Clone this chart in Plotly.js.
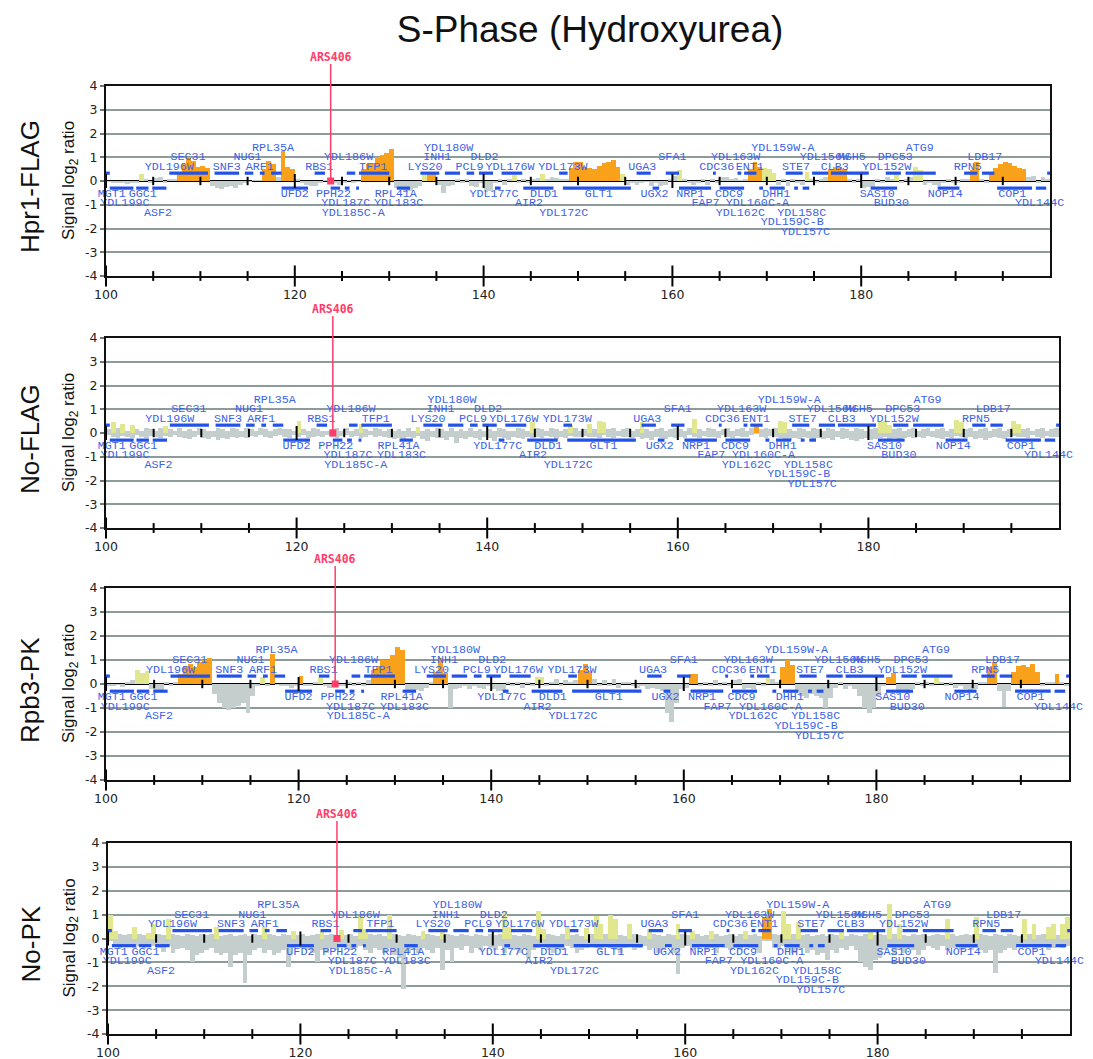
<!DOCTYPE html>
<html><head><meta charset="utf-8">
<script src="https://cdn.plot.ly/plotly-3.0.1.min.js"></script>
<style>html,body{margin:0;padding:0;background:#fff;}#chart{width:1093px;height:1059px;}</style>
</head><body><div id="chart"></div>
<script>
// ---------- DATA ----------
const binStart = 100, binStep = 0.5;   // kb, signal bins 100.0 .. 199.5

// Hpr1-FLAG signal (signed log2 ratio per 0.5 kb bin)
const hpr1 = [
 -0.05,-0.1,-0.08,-0.1,-0.12,-0.08,-0.1,0.3,0.1,-0.1,
 0.12,0.15,-0.1,0.1,0.1,0.4,0.7,1.0,0.85,0.6,
 0.65,0.55,-0.2,-0.3,-0.35,-0.25,-0.2,-0.3,-0.15,-0.1,
 -0.05,0.05,0.05,0.5,0.85,0.7,0.15,1.25,0.6,0.5,
 0.1,-0.1,-0.15,-0.2,-0.2,-0.1,0.05,-0.1,-0.1,-0.15,
 -0.1,0.05,-0.1,-0.05,0.5,0.7,0.75,1.0,1.1,1.2,
 1.35,-0.3,-0.35,-0.45,-0.4,-0.3,-0.2,0.25,0.35,0.3,
 -0.15,-0.5,-0.2,-0.15,0.1,-0.1,0.08,-0.2,-0.25,-0.1,
 -0.45,-0.4,-0.1,0.1,-0.15,0.1,0.25,-0.1,0.1,-0.1,
 0.1,0.12,0.3,0.1,0.15,0.12,0.08,0.1,0.55,0.8,
 0.8,0.6,0.55,0.5,0.65,0.75,0.8,0.9,0.6,0.3,
 -0.15,-0.1,-0.15,-0.1,-0.05,-0.2,-0.1,-0.2,-0.15,0.1,
 0.2,0.45,0.1,-0.1,-0.15,-0.1,0.1,-0.15,0.1,-0.1,
 0.15,0.15,0.1,0.12,0.05,0.1,0.5,0.8,0.6,0.55,
 0.5,0.35,-0.15,0.1,-0.2,0.1,-0.1,-0.15,0.4,0.1,
 -0.1,0.1,0.15,0.5,0.6,0.6,0.5,0.1,-0.1,0.1,
 -0.3,-0.25,-0.3,0.1,-0.1,0.15,0.1,0.3,-0.1,0.1,
 0.15,0.6,0.45,-0.15,-0.1,-0.15,-0.2,-0.1,0.1,-0.1,
 -0.1,0.1,0.1,0.45,0.8,0.1,-0.1,0.35,0.55,0.7,
 0.8,0.75,0.65,0.55,0.5,0.15,0.2,-0.1,0.15,0.1];
const hpr1EnrStart = [107.5,116.5,118.5,127.0,134.0,149.0,168.0,176.5,191.5,193.5];
const hpr1EnrEnd   = [111.0,118.0,120.0,130.5,135.0,154.5,169.5,178.5,192.5,197.5];

// No-FLAG signal: upper and lower envelope per bin
const noFlagHi = [
 0.15,0.45,0.2,0.4,0.1,0.35,0.15,0.1,0.2,0.15,
 0.1,0.2,0.3,0.15,0.1,0.2,0.1,0.15,0.1,0.2,
 0.15,0.1,0.1,0.2,0.15,0.1,0.2,0.15,0.1,0.2,
 0.15,0.1,0.2,0.15,0.1,0.15,0.2,0.15,0.15,0.1,
 0.5,0.15,0.1,0.2,0.15,0.1,0.1,0.15,0.2,0.1,
 0.2,0.1,0.15,0.4,0.15,0.1,0.2,0.15,0.1,0.15,
 0.1,0.15,0.1,0.2,0.1,0.25,0.1,0.15,0.1,0.2,
 0.15,0.1,0.2,0.1,0.15,0.1,0.2,0.1,0.15,0.1,
 0.15,0.1,0.2,0.15,0.1,0.1,0.2,0.15,0.1,0.45,
 0.2,0.15,0.1,0.2,0.15,0.1,0.15,0.35,0.2,0.1,
 0.15,0.4,0.15,0.5,0.45,0.15,0.2,0.1,0.15,0.2,
 0.1,0.15,0.45,0.15,0.1,0.15,0.2,0.1,0.15,0.2,
 0.15,0.1,0.2,0.6,0.15,0.1,0.2,0.15,0.1,0.15,
 0.2,0.1,0.15,0.2,0.1,0.2,0.4,0.15,0.2,0.15,
 0.2,0.5,0.45,0.15,0.1,0.2,0.15,0.1,0.2,0.15,
 0.1,0.2,0.15,0.1,0.2,0.15,0.1,0.2,0.15,0.1,
 0.15,0.2,0.45,0.5,0.35,0.15,0.2,0.1,0.15,0.2,
 0.1,0.15,0.2,0.1,0.15,0.2,0.1,0.15,0.55,0.45,
 0.15,0.2,0.1,0.15,0.2,0.1,0.15,0.2,0.1,0.15,
 0.5,0.4,0.15,0.2,0.1,0.15,0.2,0.1,0.15,0.2];
const noFlagLo = [
 -0.1,-0.15,-0.2,-0.12,-0.18,-0.2,-0.1,-0.15,-0.22,-0.12,
 -0.15,-0.2,-0.12,-0.18,-0.1,-0.15,-0.2,-0.25,-0.15,-0.1,
 -0.2,-0.25,-0.15,-0.3,-0.2,-0.25,-0.18,-0.22,-0.15,-0.2,
 -0.12,-0.18,-0.1,-0.15,-0.2,-0.12,-0.1,-0.15,-0.2,-0.1,
 -0.15,-0.1,-0.2,-0.15,-0.12,-0.18,-0.1,-0.15,-0.2,-0.12,
 -0.1,-0.15,-0.12,-0.2,-0.15,-0.1,-0.18,-0.12,-0.15,-0.2,
 -0.25,-0.2,-0.3,-0.15,-0.2,-0.12,-0.25,-0.35,-0.15,-0.2,
 -0.2,-0.3,-0.15,-0.4,-0.2,-0.25,-0.15,-0.2,-0.3,-0.15,
 -0.2,-0.35,-0.15,-0.2,-0.3,-0.15,-0.2,-0.25,-0.15,-0.2,
 -0.15,-0.2,-0.12,-0.18,-0.25,-0.15,-0.2,-0.12,-0.18,-0.15,
 -0.12,-0.18,-0.15,-0.2,-0.1,-0.15,-0.2,-0.12,-0.15,-0.18,
 -0.2,-0.15,-0.25,-0.2,-0.3,-0.15,-0.2,-0.25,-0.15,-0.2,
 -0.15,-0.2,-0.1,-0.15,-0.2,-0.12,-0.18,-0.15,-0.2,-0.1,
 -0.15,-0.2,-0.12,-0.18,-0.15,-0.1,-0.05,-0.15,-0.2,-0.12,
 -0.15,-0.2,-0.25,-0.3,-0.2,-0.25,-0.15,-0.2,-0.3,-0.2,
 -0.25,-0.2,-0.3,-0.15,-0.25,-0.2,-0.3,-0.35,-0.25,-0.2,
 -0.3,-0.25,-0.2,-0.15,-0.25,-0.2,-0.3,-0.2,-0.15,-0.2,
 -0.15,-0.2,-0.12,-0.18,-0.2,-0.25,-0.15,-0.2,-0.12,-0.15,
 -0.2,-0.15,-0.25,-0.2,-0.3,-0.2,-0.15,-0.2,-0.25,-0.15,
 -0.12,-0.18,-0.15,-0.2,-0.1,-0.15,-0.2,-0.12,-0.18,-0.15];
const noFlagEnrStart = [168.0];
const noFlagEnrEnd   = [168.5];

// Rpb3-PK signal (signed)
const rpb3 = [
 -0.1,-0.1,-0.05,-0.12,0.1,0.15,0.6,0.45,0.55,-0.2,
 -0.3,-0.25,0.1,-0.1,0.1,0.4,0.75,0.85,0.7,0.9,
 1.0,1.1,-0.4,-0.8,-1.0,-1.1,-1.0,-0.9,-0.8,-1.2,
 -0.5,-0.1,0.3,-0.1,1.25,-0.05,-0.1,-0.1,-0.15,-0.1,
 0.35,-0.1,-0.1,0.1,0.25,-0.1,-0.15,0.1,-0.1,-0.1,
 0.1,-0.1,0.1,-0.1,0.15,0.6,0.75,1.0,1.0,1.2,
 1.55,1.4,-0.3,-0.3,-0.25,-0.3,-0.15,0.1,0.5,1.1,
 0.45,-1.0,-0.2,-0.15,-0.1,-0.2,-0.1,-0.15,-0.2,-0.1,
 -0.2,-0.3,-0.3,0.1,-0.1,0.1,-0.15,0.1,-0.1,0.3,
 0.3,-0.1,0.1,0.2,-0.1,0.15,0.1,0.15,0.6,0.85,
 0.55,0.2,-0.1,0.15,-0.1,0.2,-0.15,0.1,0.1,-0.1,
 -0.15,-0.1,-0.2,-0.15,-0.2,-0.3,-1.2,-1.6,-0.8,-0.2,
 -0.15,0.4,0.4,-0.1,0.1,-0.1,0.15,-0.1,0.1,-0.1,
 0.15,0.2,-0.2,-0.15,-0.2,0.1,-0.1,0.3,0.2,0.1,
 0.7,1.0,0.8,-0.3,-0.5,-0.6,-0.4,-0.5,-0.6,-1.0,
 -0.6,-0.15,0.1,-0.2,-0.1,-0.2,-0.5,-1.0,-1.2,-1.0,
 -0.5,-0.1,0.3,0.45,-0.4,-0.35,-0.4,-0.2,0.1,-0.1,
 0.1,-0.1,0.35,0.1,-0.1,0.1,-0.15,-0.1,-0.2,-0.25,
 -0.2,0.1,0.1,0.7,0.9,-0.3,-0.95,-0.3,0.5,0.75,
 0.8,0.7,0.85,0.5,-0.1,0.1,0.1,0.4,0.1,-0.1];
const rpb3EnrStart = [107.5,117.0,120.0,127.5,134.0,149.0,160.5,170.0,181.0,191.5,194.0,198.5];
const rpb3EnrEnd   = [111.0,117.5,120.5,131.0,135.5,150.5,161.5,171.5,182.0,192.5,197.0,199.0];

// No-PK signal: upper and lower envelope per bin
const noPkHi = [
 1.0,0.3,0.2,0.15,0.2,0.5,0.2,0.15,0.25,0.6,
 0.2,0.15,0.8,0.2,0.15,0.1,0.2,0.15,0.1,0.2,
 0.15,0.2,0.5,0.1,0.15,0.2,0.1,0.15,0.2,0.1,
 0.2,0.15,0.5,0.2,0.15,0.1,0.2,0.15,0.3,0.15,
 0.2,0.1,0.15,0.2,0.4,0.15,0.2,0.1,0.35,0.15,
 0.2,0.1,0.95,0.4,0.2,0.15,0.2,0.1,1.0,0.2,
 0.15,0.1,0.2,0.15,0.1,0.3,0.2,0.15,0.1,0.3,
 0.2,0.15,0.1,0.2,0.15,0.1,0.2,0.15,0.1,0.2,
 0.15,0.2,1.15,0.5,0.15,0.1,0.2,0.15,0.1,1.15,
 0.4,0.2,0.15,0.1,0.2,0.5,0.15,0.2,0.1,0.45,
 0.2,0.95,0.6,0.2,1.0,0.8,0.15,0.1,0.6,0.2,
 0.15,0.1,0.4,0.2,0.15,0.1,0.2,0.15,0.6,0.2,
 0.15,0.3,0.2,0.1,0.15,0.3,0.2,0.1,0.15,0.2,
 0.1,0.2,0.3,0.15,0.2,0.1,0.9,1.25,0.2,0.15,
 1.15,0.6,0.2,0.7,0.15,0.2,0.1,0.15,0.2,0.1,
 0.2,0.15,0.3,0.1,0.2,0.15,0.1,0.2,0.3,0.15,
 0.2,0.15,1.45,0.2,0.6,0.15,0.1,0.2,0.15,0.2,
 0.1,0.15,0.2,0.15,0.8,0.2,0.1,0.15,0.2,0.15,
 0.9,0.2,0.15,0.1,0.2,0.15,0.1,0.2,0.15,0.1,
 0.8,0.2,0.6,0.15,0.2,0.5,0.6,0.15,0.6,0.9];
const noPkLo = [
 -0.1,-0.3,-0.4,-0.25,-0.35,-0.4,-0.3,-0.45,-0.35,-0.3,
 -0.4,-0.55,-0.3,-0.6,-0.45,-0.4,-0.5,-1.0,-0.7,-0.6,
 -0.5,-0.4,-0.6,-0.7,-0.6,-1.2,-0.7,-0.6,-1.85,-0.7,
 -0.5,-0.4,-0.6,-0.5,-0.7,-0.6,-0.5,-1.2,-0.4,-0.3,
 -0.4,-0.5,-0.6,-1.0,-0.5,-0.6,-0.4,-0.5,-0.3,-0.4,
 -0.5,-0.4,-0.3,-0.5,-0.6,-0.4,-0.5,-0.6,-0.4,-0.7,
 -0.8,-2.1,-0.6,-0.5,-0.6,-0.4,-0.5,-0.6,-0.4,-1.3,
 -0.5,-1.0,-0.4,-0.5,-0.3,-0.6,-0.4,-0.5,-0.3,-0.4,
 -0.5,-0.3,-0.6,-0.4,-0.5,-0.6,-0.4,-0.8,-0.5,-0.4,
 -0.3,-0.5,-0.6,-0.4,-0.5,-0.3,-0.4,-0.6,-0.5,-0.4,
 -0.3,-0.4,-0.5,-0.3,-0.4,-0.5,-0.6,-0.4,-0.3,-0.5,
 -0.4,-0.3,-0.5,-0.4,-0.6,-0.5,-0.3,-0.6,-1.5,-0.4,
 -0.3,-0.5,-0.4,-0.3,-0.5,-0.4,-0.6,-0.3,-0.4,-0.5,
 -0.4,-0.5,-0.3,-0.4,-0.5,-0.6,-0.1,-0.1,-0.4,-0.5,
 -0.3,-0.5,-0.6,-0.5,-0.4,-0.6,-0.5,-0.7,-0.6,-0.9,
 -0.5,-0.6,-0.4,-0.5,-0.3,-0.5,-1.0,-1.2,-1.3,-0.9,
 -0.8,-0.5,-0.4,-0.7,-0.5,-0.6,-0.4,-0.5,-0.7,-0.5,
 -0.3,-0.4,-0.5,-0.3,-0.5,-0.4,-0.3,-0.5,-0.4,-0.5,
 -0.4,-0.5,-0.6,-0.5,-1.45,-0.6,-0.5,-0.4,-0.5,-0.3,
 -0.4,-0.3,-0.5,-0.4,-0.3,-0.5,-0.4,-0.3,-0.4,-0.3];
const noPkEnrStart = [168.0];
const noPkEnrEnd   = [169.0];

// Gene annotation (kb). level: +1..+3 Watson labels above axis, -1..-5 Crick labels below
const geneNames = ['TRM8','YDL196W','SNF3','ARF1','RBS1','TFP1','LYS20','PCL9','YDL176W','YDL173W','UGA3','CDC36','ENT1','STE7','CLB3','YDL152W','RPN5','CCT4',
 'SEC31','NUG1','YDL186W','INH1','DLD2','SFA1','YDL163W','YDL156W','MSH5','DPC53','LDB17',
 'RPL35A','YDL180W','YDL159W-A','ATG9',
 'MGT1','GGC1','UFD2','PPH22','RPL41A','YDL177C','DLD1','GLT1','UGX2','NRP1','CDC9','DHH1','SAS10','NOP14','COP1',
 'YDL199C','YDL187C','YDL183C','AIR2','FAP7','YDL160C-A','BUD30','YDL144C',
 'ASF2','YDL185C-A','YDL172C','YDL162C','YDL158C',
 'YDL159C-B','YDL157C'];
const geneX = [99.7,106.7,112.8,116.3,122.6,128.3,133.8,138.5,142.8,148.4,156.8,164.7,168.2,173.1,177.2,182.7,191.3,200.5,
 108.7,115.0,125.7,135.1,140.1,160.0,166.7,176.1,179.0,183.6,193.1,
 117.7,136.3,171.7,186.2,
 100.6,103.9,120.0,124.1,130.7,141.1,146.4,152.2,158.1,161.9,166.0,171.0,181.7,188.9,196.0,
 102.0,125.4,131.0,144.8,163.5,169.0,183.2,198.9,
 105.5,126.2,148.5,167.2,173.7,
 172.7,174.1];
const geneLevel = [1,1,1,1,1,1,1,1,1,1,1,1,1,1,1,1,1,1,
 2,2,2,2,2,2,2,2,2,2,2,
 3,3,3,3,
 -1,-1,-1,-1,-1,-1,-1,-1,-1,-1,-1,-1,-1,-1,-1,
 -2,-2,-2,-2,-2,-2,-2,-2,
 -3,-3,-3,-3,-3,
 -4,-5];
const watsonStart = [99.5,106.7,111.5,114.7,116.3,117.5,122.1,125.5,126.8,133.3,135.9,138.2,139.5,141.9,148.0,156.2,159.3,164.3,166.9,167.6,172.0,174.8,176.8,182.6,184.7,190.9,192.8,199.7];
const watsonEnd   = [100.4,110.8,114.1,115.6,116.8,118.6,123.2,126.4,130.0,135.3,137.5,139.0,141.0,144.1,148.9,157.7,160.7,164.6,167.3,168.9,173.8,176.5,180.8,184.2,187.9,192.3,194.1,201.5];
const crickStart  = [100.4,103.2,104.9,118.6,123.8,125.3,126.5,130.8,141.2,144.2,148.4,157.9,160.7,165.0,169.2,170.3,172.9,173.8,181.0,188.1,194.4,198.5];
const crickEnd    = [102.9,104.5,106.4,121.4,124.8,125.8,126.8,132.2,141.8,147.4,155.6,158.6,164.1,167.6,169.6,171.9,173.3,174.5,183.8,190.4,198.1,199.6];

const arsName = 'ARS406', arsX = 123.8;
const xMajorTicks = [100,120,140,160,180];
const xMinorTicks = [105,110,115,125,130,135,145,150,155,165,170,175,185,190,195];
const yTicks = [-4,-3,-2,-1,0,1,2,3,4];

const panelNames = ['Hpr1-FLAG','No-FLAG','Rpb3-PK','No-PK'];

// ---------- STYLE / LAYOUT ----------
const W = 1093, H = 1059;
const ORANGE = '#f9a11b', GREY = '#c4cecc', YELLOW = '#e0e78e', BLUE = '#3d63e6', BAR_BLUE = '#2352e8', RED = '#ff3d6a';
// pixel geometry of each panel: [left, right, top, bottom]
const geom = [[106,1050,86,276],[106,1059,338,528],[106,1069,588,780],[108,1070,843,1034]];

const series = [
  {hi: hpr1.map(v=>Math.max(v,0)), lo: hpr1.map(v=>Math.min(v,0)), es: hpr1EnrStart, ee: hpr1EnrEnd},
  {hi: noFlagHi, lo: noFlagLo, es: noFlagEnrStart, ee: noFlagEnrEnd},
  {hi: rpb3.map(v=>Math.max(v,0)), lo: rpb3.map(v=>Math.min(v,0)), es: rpb3EnrStart, ee: rpb3EnrEnd},
  {hi: noPkHi, lo: noPkLo, es: noPkEnrStart, ee: noPkEnrEnd}
];

function lvlY(l){ return l > 0 ? 0.2 + 0.4*l : -0.55 - 0.4*(-l-1); }
function segs(s, e, y){ const X=[],Y=[]; s.forEach((v,i)=>{X.push(v,e[i],null);Y.push(y,y,null);}); return {X,Y}; }
const py = p => 1 - p / H;

const traces = [], layout = {
  width: W, height: H, autosize: false, margin: {l:0,r:0,t:0,b:0},
  paper_bgcolor: '#fff', plot_bgcolor: '#fff', showlegend: false, hovermode: false,
  barmode: 'relative', bargap: 0,
  title: {text: 'S-Phase (Hydroxyurea)', font: {family: 'Liberation Sans, Arial, sans-serif', size: 37, color: '#111'},
          x: 590/W, xanchor: 'center', y: py(29), yanchor: 'middle'},
  annotations: [], shapes: []
};

series.forEach((s, k) => {
  const n = k + 1, xa = 'x' + (k ? n : ''), ya = 'y' + (k ? n : '');
  const [L, R, T, B] = geom[k];
  const xs = s.hi.map((_, i) => binStart + i*binStep + binStep/2);
  const inEnr = x => s.es.some((a, j) => x >= a && x < s.ee[j]);
  const hiCol = s.hi.map((v, i) => inEnr(xs[i]) ? ORANGE : (v >= 0.25 ? YELLOW : GREY));
  traces.push({type:'bar', x: xs, y: s.hi, width: binStep, marker:{color: hiCol, line:{width:0}}, xaxis: xa, yaxis: ya, hoverinfo:'skip'});
  traces.push({type:'bar', x: xs, y: s.lo, width: binStep, marker:{color: GREY, line:{width:0}}, xaxis: xa, yaxis: ya, hoverinfo:'skip'});
  const w = segs(watsonStart, watsonEnd, 0.33), c = segs(crickStart, crickEnd, -0.3);
  traces.push({type:'scatter', mode:'lines', x: w.X.concat(c.X), y: w.Y.concat(c.Y), line:{color: BAR_BLUE, width: 3.2}, xaxis: xa, yaxis: ya, connectgaps:false});
  traces.push({type:'scatter', mode:'text', x: geneX, y: geneLevel.map(lvlY), text: geneNames, textposition:'middle center',
    textfont:{family:'Liberation Mono, Courier New, monospace', size: 11.7, color: BLUE}, cliponaxis:false, xaxis: xa, yaxis: ya});
  // tick marks across the zero line and the bottom axis
  traces.push({type:'scatter', mode:'markers', x: xMajorTicks, y: xMajorTicks.map(()=>0), marker:{symbol:'line-ns', size:10, line:{width:2,color:'#000'}}, cliponaxis:false, xaxis: xa, yaxis: ya});
  traces.push({type:'scatter', mode:'markers', x: xMinorTicks, y: xMinorTicks.map(()=>0), marker:{symbol:'line-ns', size:6, line:{width:2,color:'#000'}}, cliponaxis:false, xaxis: xa, yaxis: ya});
  traces.push({type:'scatter', mode:'markers', x: xMajorTicks, y: xMajorTicks.map(()=>-4), marker:{symbol:'line-ns', size:15, line:{width:2,color:'#000'}}, cliponaxis:false, xaxis: xa, yaxis: ya});
  traces.push({type:'scatter', mode:'markers', x: xMinorTicks, y: xMinorTicks.map(()=>-4), marker:{symbol:'line-ns', size:7, line:{width:2,color:'#000'}}, cliponaxis:false, xaxis: xa, yaxis: ya});
  // ARS marker
  traces.push({type:'scatter', mode:'markers', x:[arsX], y:[0], marker:{symbol:'square', size:7, color: RED}, cliponaxis:false, xaxis: xa, yaxis: ya});

  const axName = k ? n : '';
  layout['xaxis' + axName] = {domain:[L/W, R/W], range:[100,200], anchor: ya, tickvals: xMajorTicks, ticktext: xMajorTicks.map(String),
    ticks:'outside', ticklen: 6, tickcolor:'rgba(0,0,0,0)', tickfont:{family:'DejaVu Sans, sans-serif', size:12.5, color:'#222'},
    showgrid:false, zeroline:false, showline:true, mirror:true, linecolor:'#111', linewidth:2, fixedrange:true};
  layout['yaxis' + axName] = {domain:[py(B), py(T)], range:[-4,4], anchor: xa, tickvals: yTicks, ticktext: yTicks.map(String),
    ticks:'outside', ticklen:4, tickwidth:2, tickcolor:'#777', tickfont:{family:'DejaVu Sans, sans-serif', size:12.5, color:'#222'},
    showgrid:true, gridcolor:'#8e9b9b', gridwidth:2, zeroline:true, zerolinecolor:'#000', zerolinewidth:2,
    showline:true, mirror:true, linecolor:'#111', linewidth:2, fixedrange:true};

  const mid = (T + B) / 2;
  layout.annotations.push({xref:'paper', yref:'paper', x: 30/W, y: py(mid + 6), text: panelNames[k], textangle:-90, showarrow:false,
    font:{family:'Liberation Sans, Arial, sans-serif', size:26, color:'#111'}, xanchor:'center', yanchor:'middle'});
  layout.annotations.push({xref:'paper', yref:'paper', x: 70/W, y: py(mid), text: 'Signal log<sub>2</sub> ratio', textangle:-90, showarrow:false,
    font:{family:'Liberation Sans, Arial, sans-serif', size:17, color:'#111'}, xanchor:'center', yanchor:'middle'});
  layout.annotations.push({xref: xa, yref:'paper', x: arsX, y: py(T - 29), text: arsName, showarrow:false,
    font:{family:'DejaVu Sans Mono, monospace', size:11.5, color: RED, weight: 'bold'}, xanchor:'center', yanchor:'middle'});
  layout.shapes.push({type:'line', xref: xa, yref:'paper', x0: arsX, x1: arsX, y0: py(mid), y1: py(T - 22), line:{color: RED, width:1.5}, layer:'above'});
});

Plotly.newPlot('chart', traces, layout, {staticPlot:true, displayModeBar:false});
</script></body></html>
